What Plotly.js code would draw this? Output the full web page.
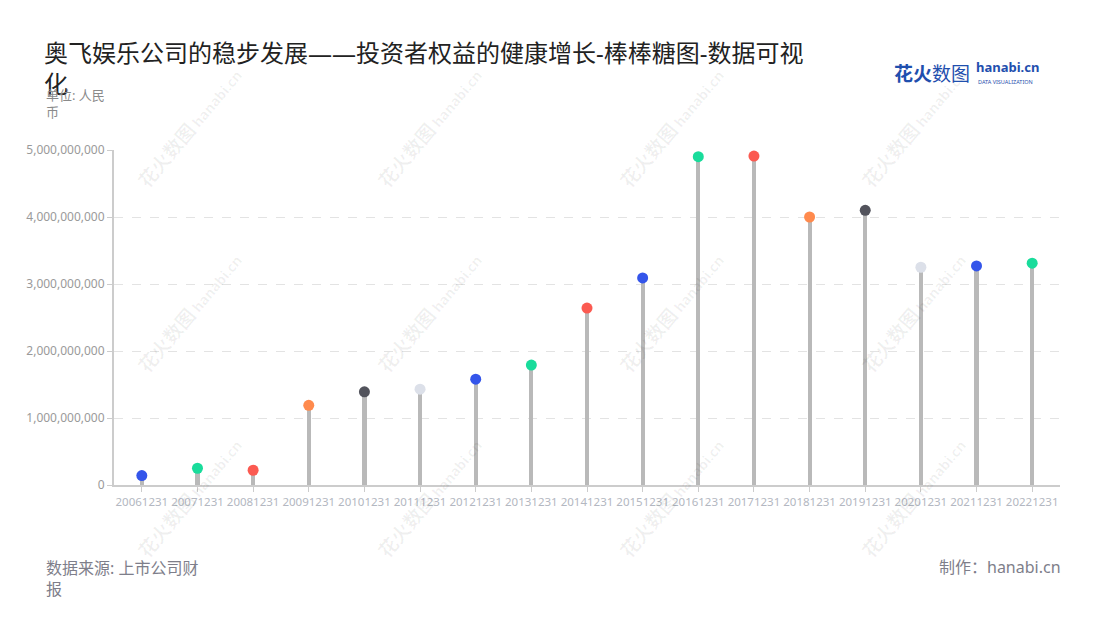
<!DOCTYPE html>
<html>
<head>
<meta charset="utf-8">
<script src="https://cdn.plot.ly/plotly-3.0.1.min.js"></script>
<style>html,body{margin:0;padding:0;background:#fff;}#chart{width:1100px;height:620px;}</style>
</head>
<body>
<div id="chart"></div>
<script>
const categories = ["20061231","20071231","20081231","20091231","20101231","20111231","20121231","20131231","20141231","20151231","20161231","20171231","20181231","20191231","20201231","20211231","20221231"];
const equity = [0.14e9,0.25e9,0.22e9,1.19e9,1.39e9,1.43e9,1.58e9,1.79e9,2.64e9,3.09e9,4.90e9,4.91e9,4.00e9,4.10e9,3.25e9,3.27e9,3.31e9];
const pointColors = ["#3455ea","#19dc9b","#fb5a51","#ff8a4d","#52535c","#dce0e9","#3455ea","#19dc9b","#fb5a51","#3455ea","#19dc9b","#fb5a51","#ff8a4d","#52535c","#dce0e9","#3455ea","#19dc9b"];
const yTicks = [0,1e9,2e9,3e9,4e9,5e9];

const FONT = "Noto Sans, Noto Sans CJK SC, sans-serif";

const stems = {
  type: "bar", x: categories, y: equity, width: 0.075,
  marker: {color: "#b9b9b9", line: {width: 0}}, hoverinfo: "skip", showlegend: false
};
const heads = {
  type: "scatter", mode: "markers", x: categories, y: equity,
  marker: {color: pointColors, size: 11, line: {width: 0}}, cliponaxis: false, showlegend: false
};

function px(x){return (x - 114) / 946;}
function py(y){return (485 - y) / 335;}

const annotations = [];
// watermarks
const wmX = [190, 430, 672, 914], wmY = [128, 313, 498];
wmX.forEach(x => wmY.forEach(y => annotations.push({
  xref: "paper", yref: "paper", x: px(x), y: py(y),
  text: "<b><span style='font-size:19px'>花火数图</span> hanabi.cn</b>", showarrow: false, textangle: -50,
  font: {family: FONT, size: 14, color: "rgba(0,0,0,0.06)"}, xanchor: "center", yanchor: "middle"
})));
annotations.push(
  {xref:"paper",yref:"paper",x:px(44),y:py(104),xanchor:"left",yanchor:"middle",align:"left",showarrow:false,
   text:"单位: 人民<br>币",font:{family:FONT,size:13,color:"#8a8a8a"}},
  {xref:"paper",yref:"paper",x:px(44),y:py(578),xanchor:"left",yanchor:"middle",align:"left",showarrow:false,
   text:"数据来源: 上市公司财<br>报",font:{family:FONT,size:16,color:"#7e7e8a"}},
  {xref:"paper",yref:"paper",x:px(1063),y:py(567),xanchor:"right",yanchor:"middle",showarrow:false,
   text:"制作：hanabi.cn",font:{family:FONT,size:16,color:"#7e7e8a"}},
  {xref:"paper",yref:"paper",x:px(892),y:py(72),xanchor:"left",yanchor:"middle",showarrow:false,
   text:"<b>花火</b>数图",font:{family:"Noto Sans CJK SC",size:19,color:"#1f4fae"}},
  {xref:"paper",yref:"paper",x:px(974),y:py(67),xanchor:"left",yanchor:"middle",showarrow:false,
   text:"<b>hanabi.cn</b>",font:{family:FONT,size:13,color:"#1f4fae"}},
  {xref:"paper",yref:"paper",x:px(976),y:py(82),xanchor:"left",yanchor:"middle",showarrow:false,
   text:"DATA VISUALIZATION",font:{family:FONT,size:5.5,color:"#1f4fae"}}
);

const layout = {
  width: 1100, height: 620, paper_bgcolor: "#fff", plot_bgcolor: "#fff",
  margin: {l: 114, r: 40, t: 150, b: 135},
  font: {family: FONT},
  title: {text: "奥飞娱乐公司的稳步发展——投资者权益的健康增长-棒棒糖图-数据可视<br>化",
    xref: "container", yref: "container", x: 44/1100, xanchor: "left", y: 1 - 62/620, yanchor: "top",
    font: {family: FONT, size: 24, color: "#222"}},
  xaxis: {type: "category", range: [-0.5, 16.5], showline: true, linecolor: "#cccccc", linewidth: 2,
    ticks: "outside", ticklen: 5, tickcolor: "#cccccc", tickwidth: 1, showgrid: false, zeroline: false,
    tickangle: 0, tickfont: {family: FONT, size: 11.5, color: "#b3b7c1"}, fixedrange: true},
  yaxis: {range: [0, 5e9], tickvals: yTicks, tickformat: ",d", showline: true, linecolor: "#cccccc", linewidth: 2,
    ticks: "outside", ticklen: 5, tickcolor: "#cccccc", showgrid: true, gridcolor: "#e3e3e3", griddash: "dash",
    zeroline: false, tickfont: {family: FONT, size: 12, color: "#9a9a9a"}, fixedrange: true},
  bargap: 0, annotations: annotations
};

Plotly.newPlot("chart", [stems, heads], layout, {displayModeBar: false, staticPlot: true});
</script>
</body>
</html>
